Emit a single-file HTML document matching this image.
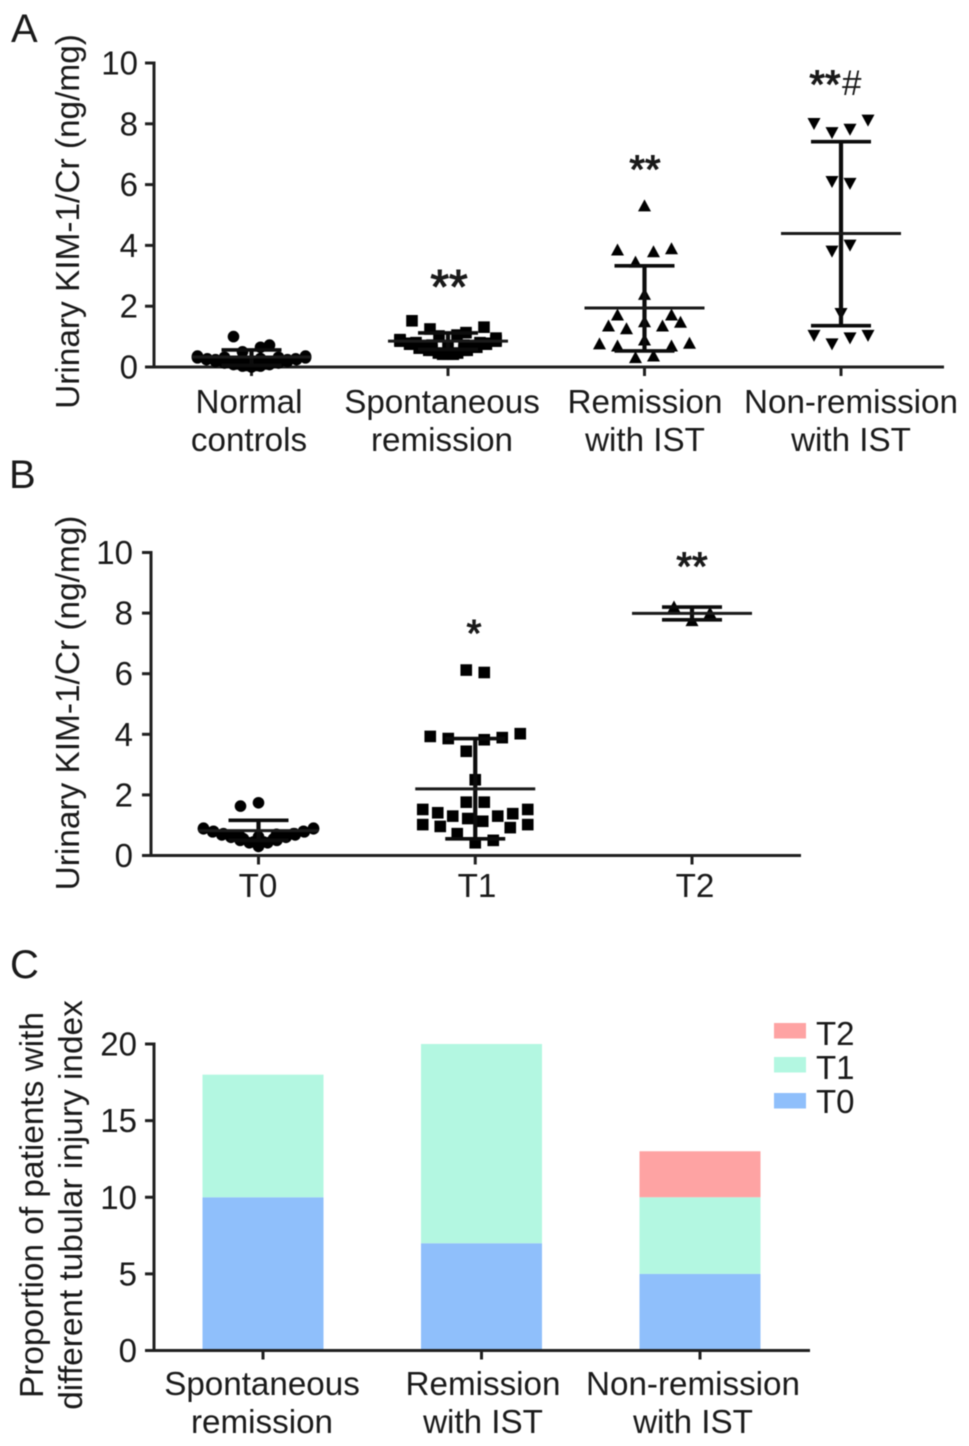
<!DOCTYPE html>
<html lang="en">
<head>
<meta charset="utf-8">
<title>Urinary KIM-1/Cr charts</title>
<style>
html,body{margin:0;padding:0;background:#fff;}
body{width:969px;height:1446px;overflow:hidden;}
svg{display:block;filter:blur(0.5px);}
text{font-family:"Liberation Sans",Arial,sans-serif;fill:#1a1a1a;}
.stars{stroke:#1a1a1a;stroke-width:1.1px;}
</style>
</head>
<body>
<svg id="figure" width="969" height="1446" viewBox="0 0 969 1446" xmlns="http://www.w3.org/2000/svg">
  <rect width="969" height="1446" fill="#fff"/>
  <g id="panel-a">
    <text x="11" y="42" font-size="40">A</text>
    <text transform="translate(79,221.5) rotate(-90)" text-anchor="middle" font-size="33.4">Urinary KIM-1/Cr (ng/mg)</text>
    <text class="stars" x="449" y="303" text-anchor="middle" font-size="48">**</text>
    <text class="stars" x="645" y="183" text-anchor="middle" font-size="40">**</text>
    <text class="stars" x="825" y="98" text-anchor="middle" font-size="40">**</text>
    <text x="842" y="95" font-size="35">#</text>
  </g>
  <g id="panel-b">
    <text x="9" y="488" font-size="40">B</text>
    <text transform="translate(79,703) rotate(-90)" text-anchor="middle" font-size="33.4">Urinary KIM-1/Cr (ng/mg)</text>
    <text class="stars" x="474" y="646" text-anchor="middle" font-size="38">*</text>
    <text class="stars" x="692" y="580" text-anchor="middle" font-size="40">**</text>
  </g>
  <g id="panel-c">
    <text x="10" y="978" font-size="40">C</text>
    <text transform="translate(43,1205) rotate(-90)" text-anchor="middle" font-size="33.4">Proportion of patients with</text>
    <text transform="translate(82,1205) rotate(-90)" text-anchor="middle" font-size="33.4">different tubular injury index</text>
  </g>
</svg>
<script>
/* ---------- Panel A data ---------- */
const aCategories = [["Normal","controls"],["Spontaneous","remission"],["Remission","with IST"],["Non-remission","with IST"]];
const aTicks = [0,2,4,6,8,10];
/* each inner array is one swarm row, listed centre-outwards (null = empty slot) */
const aNormalRows = [
  [0.0,0.03,0.03,0.08,0.08,0.13,0.13,0.18,0.18,0.24,0.24,0.33,0.33],
  [0.05,0.05,0.1,0.1,0.16,0.16,0.21,0.21,0.27,0.27,0.36,0.36],
  [0.16,0.18,0.18,0.24,0.24,0.3,0.3],
  [0.28,0.28,0.32,0.32],
  [0.5,0.65],
  [null,null,0.72],
  [null,1.0,null]
];
const aSpontaneousRows = [
  [0.42,0.46,0.46,0.55,0.55,0.62,0.65,0.75,0.75,0.88,0.88],
  [0.42,0.42,0.55,0.55,0.65,0.68,0.78,0.78,0.9,0.95],
  [0.7,0.72,0.72,0.8,0.8,0.85,0.85],
  [1.02,1.05],
  [null,1.25,1.13,1.52,1.31]
];
const aRemissionRows = [
  [5.3],
  [3.45,3.79,3.85,3.89],
  [2.39],
  [1.49,1.26,1.35,1.35,1.47],
  [null,null,1.71,1.71],
  [0.89],
  [0.31,0.36,0.69,0.69,0.76,0.78]
];
const aNonRemissionRows = [
  [7.71,7.82,8.01,8.12],
  [6.1,6.04],
  [3.81,4.01],
  [1.76],
  [0.76,0.96,1.04,1.04]
];
const aMeans = [0.33,0.85,1.94,4.39];
const aUpper = [0.56,1.12,3.33,7.41];
const aLower = [0.05,0.58,0.53,1.36];

/* ---------- Panel B data ---------- */
const bCategories = [["T0"],["T1"],["T2"]];
const bTicks = [0,2,4,6,8,10];
const bT0Rows = [
  [0.3,0.42,0.42,0.5,0.5,0.6,0.6,0.68,0.68,0.78,0.78,0.9,0.9],
  [0.45,0.45,0.55,0.55,0.65,0.65,0.72,0.72,0.8,0.8,0.88,0.88],
  [0.62,0.62,0.7,0.7,0.72],
  [1.74,1.63,null]
];
const bT1Rows = [
  [6.12,6.04],
  [3.44,3.82,3.86,3.89,3.93,4.02],
  [2.5],
  [1.76,1.76],
  [1.22,1.13,1.3,1.3,1.41,1.38,1.52,1.52],
  [null,null,null,0.96,0.92,1.02,1.02],
  [0.42,0.72,0.5]
];
const bT2Rows = [
  [7.75,8.2,8.0]
];
const bMeans = [0.82,2.2,7.99];
const bUpper = [1.16,3.86,8.2];
const bLower = [0.5,0.55,7.78];

/* ---------- Panel C data ---------- */
const cCategories = [["Spontaneous","remission"],["Remission","with IST"],["Non-remission","with IST"]];
const cTicks = [0,5,10,15,20];
const cT0 = [10,7,5];
const cT1 = [8,13,5];
const cT2 = [0,0,3];
const cLegend = ["T2","T1","T0"];

/* ---------- helpers ---------- */
const NS = "http://www.w3.org/2000/svg";
function svgEl(parent, tag, attrs) {
  const n = document.createElementNS(NS, tag);
  for (const k in attrs) n.setAttribute(k, attrs[k]);
  parent.appendChild(n);
  return n;
}
function linear(d0, d1, r0, r1) {
  return v => r0 + (v - d0) * (r1 - r0) / (d1 - d0);
}
function drawAxes(g, o) {
  let el = svgEl(g, "line", {x1:o.left, x2:o.left, y1:o.y(o.ticks[o.ticks.length-1])-1.5, y2:o.y(0), stroke:"#202020","stroke-width":3});
  
  
  el = svgEl(g, "line", {x1:o.left-9, x2:o.right, y1:o.y(0), y2:o.y(0), stroke:"#202020","stroke-width":3});
  
  
  o.ticks.forEach(t => {
    let tk = svgEl(g, "line", {x1:o.left-9, x2:o.left, y1:o.y(t), y2:o.y(t), stroke:"#202020","stroke-width":3});
    
    
    let lb = svgEl(g, "text", {x:o.labelRight, y:o.y(t)+11.5, "text-anchor":"end","font-size":33});
    
    
    lb.textContent = t;
  });
  o.categories.forEach((lines, i) => {
    let tk = svgEl(g, "line", {x1:o.x(i), x2:o.x(i), y1:o.y(0), y2:o.y(0)+9, stroke:"#202020","stroke-width":3});
    
    
    lines.forEach((txt, j) => {
      let lb = svgEl(g, "text", {x:o.labelCentres[i], y:o.labelBase + j*38, "text-anchor":"middle","font-size":33.2});
      
      
      lb.textContent = txt;
    });
  });
}
function drawMarker(g, shape, cx, cy) {
  let m;
  if (shape === "circle") {
    m = svgEl(g, "circle", {cx:cx, cy:cy, r:5.8, fill:"#000"});
  } else if (shape === "square") {
    m = svgEl(g, "rect", {x:cx-5.8, y:cy-5.8, width:11.6, height:11.6, fill:"#000"});
  } else if (shape === "up") {
    m = svgEl(g, "path", {d:`M${cx} ${cy-6.5}L${cx+6.5} ${cy+5.5}L${cx-6.5} ${cy+5.5}Z`, fill:"#000"});
  } else {
    m = svgEl(g, "path", {d:`M${cx} ${cy+6.5}L${cx+6.5} ${cy-5.5}L${cx-6.5} ${cy-5.5}Z`, fill:"#000"});
  }
  
  
}
/* swarm: each row is spread symmetrically around the centre, compressing to fit the width */
function drawSwarm(g, rows, shape, cx, y, spread) {
  rows.forEach(row => {
    const n = row.length;
    const step = n > 1 ? Math.min(18, spread / (n - 1)) : 0;
    row.forEach((v, i) => {
      if (v === null) return;
      let off;
      if (n % 2) {
        const k = Math.ceil(i / 2);
        off = (i % 2 ? -1 : 1) * k * step;
      } else {
        const k = Math.floor(i / 2) + 0.5;
        off = (i % 2 ? 1 : -1) * k * step;
      }
      drawMarker(g, shape, cx + off, y(v));
    });
  });
}
function drawStats(g, cx, y, mean, upper, lower) {
  let el = svgEl(g, "line", {x1:cx, x2:cx, y1:y(upper), y2:y(lower), stroke:"#0c0c0c","stroke-width":4.2});
  
  
  el = svgEl(g, "line", {x1:cx-30, x2:cx+30, y1:y(upper), y2:y(upper), stroke:"#0c0c0c","stroke-width":3.6});
  
  
  el = svgEl(g, "line", {x1:cx-30, x2:cx+30, y1:y(lower), y2:y(lower), stroke:"#0c0c0c","stroke-width":3.6});
  
  
  el = svgEl(g, "line", {x1:cx-60, x2:cx+60, y1:y(mean), y2:y(mean), stroke:"#1a1a1a","stroke-width":3});
  
  
}

/* ---------- Panel A ---------- */
(function () {
  const g = document.getElementById("panel-a");
  const y = linear(0, 10, 367, 63);
  const x = linear(0, 3, 251.5, 841);
  drawAxes(g, {y, x, ticks:aTicks, categories:aCategories, left:154, right:944, labelRight:138,
               labelCentres:[249,442,645,851], labelBase:413});
  drawSwarm(g, aNormalRows, "circle", x(0), y, 108);
  drawSwarm(g, aSpontaneousRows, "square", x(1), y, 96);
  drawSwarm(g, aRemissionRows, "up", x(2), y, 108);
  drawSwarm(g, aNonRemissionRows, "down", x(3), y, 108);
  aMeans.forEach((m, i) => drawStats(g, x(i), y, m, aUpper[i], aLower[i]));
})();

/* ---------- Panel B ---------- */
(function () {
  const g = document.getElementById("panel-b");
  const y = linear(0, 10, 855.5, 552.5);
  const x = linear(0, 2, 258.5, 692);
  drawAxes(g, {y, x, ticks:bTicks, categories:bCategories, left:151, right:801, labelRight:133,
               labelCentres:[258,477,695], labelBase:897});
  drawSwarm(g, bT0Rows, "circle", x(0), y, 110);
  drawSwarm(g, bT1Rows, "square", x(1), y, 105);
  drawSwarm(g, bT2Rows, "up", x(2), y, 108);
  bMeans.forEach((m, i) => drawStats(g, x(i), y, m, bUpper[i], bLower[i]));
})();

/* ---------- Panel C ---------- */
(function () {
  const g = document.getElementById("panel-c");
  const y = linear(0, 20, 1350.5, 1044);
  const x = linear(0, 2, 263, 700);
  const colours = {T0:"#8fbffb", T1:"#b3f7e1", T2:"#fea3a3"};
  const halfWidth = 60.5;
  cT0.forEach((v, i) => {
    const r0 = svgEl(g, "rect", {x:x(i)-halfWidth, width:halfWidth*2, y:y(v), height:y(0)-y(v), fill:colours.T0});
    
    
    const r1 = svgEl(g, "rect", {x:x(i)-halfWidth, width:halfWidth*2, y:y(v+cT1[i]), height:y(v)-y(v+cT1[i]), fill:colours.T1});
    
    
    const top = v + cT1[i];
    const r2 = svgEl(g, "rect", {x:x(i)-halfWidth, width:halfWidth*2, y:y(top+cT2[i]), height:y(top)-y(top+cT2[i]), fill:colours.T2});
    
    
  });
  drawAxes(g, {y, x, ticks:cTicks, categories:cCategories, left:154, right:810, labelRight:137,
               labelCentres:[262,483,693], labelBase:1395});
  const swatchTop = [1023,1057,1093];
  const labelBase = [1045,1079,1113];
  cLegend.forEach((name, i) => {
    const s = svgEl(g, "rect", {x:774, y:swatchTop[i], width:32, height:15.5, fill:colours[name]});
    
    
    const t = svgEl(g, "text", {x:816, y:labelBase[i], "font-size":33});
    
    
    t.textContent = name;
  });
})();
</script>
</body>
</html>
